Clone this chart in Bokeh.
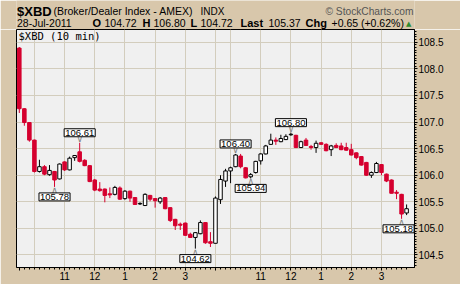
from bokeh.plotting import figure
from bokeh.layouts import column
from bokeh.models import (Range1d, FixedTicker, SingleIntervalTicker, PrintfTickFormatter,
                          Label, LinearAxis)
from bokeh.core.properties import value
from bokeh.embed import file_html
from bokeh.resources import INLINE

# ---------------- data (10-minute bars, 27-28 Jul 2011) ----------------
opens = [108.39, 107.25, 106.99, 106.66, 106.07, 106.16, 106.01, 106.07, 105.93, 106.25,
         106.10, 106.33, 106.44, 106.28, 106.18, 105.91, 105.74, 105.74, 105.65, 105.64,
         105.76, 105.56, 105.70, 105.58, 105.46, 105.43, 105.62, 105.56, 105.50, 105.58,
         105.39, 105.17, 105.08, 105.10, 104.89, 104.83, 104.90, 105.11, 104.75,
         104.72, 105.54, 105.89, 106.08, 106.16, 106.36, 106.14, 105.97, 106.05, 106.27,
         106.40, 106.58, 106.66, 106.63, 106.67, 106.76, 106.75, 106.52, 106.66, 106.54,
         106.52, 106.61, 106.58, 106.48, 106.56, 106.55, 106.52, 106.48, 106.42, 106.35,
         106.24, 106.00, 106.05, 106.20, 106.02, 105.91, 105.68, 105.64, 105.29]
highs = [108.41, 107.26, 107.00, 106.67, 106.29, 106.19, 106.19, 106.08, 106.22, 106.26,
         106.35, 106.38, 106.61, 106.30, 106.19, 105.93, 105.87, 105.75, 105.77, 105.80,
         105.79, 105.72, 105.71, 105.59, 105.49, 105.66, 105.63, 105.57, 105.59, 105.59,
         105.40, 105.18, 105.11, 105.11, 104.92, 104.93, 105.15, 105.12, 104.93,
         105.60, 106.00, 106.12, 106.16, 106.40, 106.40, 106.15, 106.04, 106.27, 106.41,
         106.57, 106.78, 106.71, 106.76, 106.77, 106.80, 106.76, 106.65, 106.70, 106.57,
         106.65, 106.62, 106.60, 106.57, 106.60, 106.61, 106.61, 106.59, 106.43, 106.36,
         106.25, 106.07, 106.25, 106.21, 106.03, 105.92, 105.72, 105.65, 105.45]
lows = [107.17, 106.93, 106.63, 106.05, 106.05, 106.00, 105.99, 105.78, 105.92, 106.08,
        106.09, 106.27, 106.24, 106.17, 105.87, 105.70, 105.69, 105.49, 105.57, 105.62,
        105.54, 105.54, 105.50, 105.44, 105.44, 105.42, 105.51, 105.39, 105.46, 105.36,
        105.12, 104.97, 104.97, 104.86, 104.82, 104.62, 104.89, 104.71, 104.65,
        104.72, 105.46, 105.78, 105.85, 106.15, 106.13, 105.94, 105.94, 106.03, 106.20,
        106.39, 106.57, 106.57, 106.62, 106.66, 106.74, 106.51, 106.51, 106.55, 106.48,
        106.42, 106.57, 106.45, 106.36, 106.51, 106.47, 106.46, 106.37, 106.30, 106.18,
        105.99, 105.95, 106.04, 106.00, 105.87, 105.66, 105.55, 105.18, 105.25]
closes = [107.25, 106.99, 106.66, 106.07, 106.16, 106.02, 106.09, 105.91, 106.21, 106.10,
          106.32, 106.37, 106.26, 106.18, 105.88, 105.72, 105.71, 105.62, 105.63, 105.77,
          105.55, 105.70, 105.57, 105.45, 105.47, 105.64, 105.55, 105.52, 105.57, 105.37,
          105.15, 105.05, 105.06, 104.87, 104.83, 104.92, 105.11, 104.73, 104.72,
          105.57, 105.92, 106.08, 106.14, 106.38, 106.16, 105.95, 106.01, 106.26, 106.40,
          106.55, 106.66, 106.64, 106.69, 106.73, 106.77, 106.52, 106.63, 106.56, 106.52,
          106.60, 106.58, 106.46, 106.55, 106.52, 106.48, 106.47, 106.38, 106.33, 106.19,
          106.00, 106.05, 106.22, 106.05, 105.89, 105.66, 105.66, 105.27, 105.37]

days = ["27Jul", "28Jul"]
session_start = (9, 30)
bars_per_day = 39
bar_minutes = 10

# annotated swing highs / lows (bar index, which price)
ann_idx = [7, 12, 35, 43, 46, 54, 76]
ann_kind = ["low", "high", "low", "high", "low", "high", "low"]

# header texts
symbol = "$XBD"
name = "(Broker/Dealer Index - AMEX)"
exchange = "INDX"
credit = "\u00a9 StockCharts.com"
date_str = "28-Jul-2011"
q_open, q_high, q_low, q_last = "104.72", "106.80", "104.72", "105.37"
q_chg = "+0.65 (+0.62%)"
inner_title = "$XBD (10 min)"

# ---------------- derived ----------------
n = len(opens)
xs = list(range(n))
times = []
for d in days:
    for k in range(bars_per_day):
        m = session_start[0] * 60 + session_start[1] + bar_minutes * k
        times.append((d, m // 60, m % 60))

day_ticks = [i for i, t in enumerate(times) if i == 0 or times[i - 1][0] != t[0]]
hour_idx = [i for i, t in enumerate(times) if t[2] == 0]
label_hours = [i for i in hour_idx if times[i][1] != 10]
grid_ticks = sorted(set(hour_idx + day_ticks[1:]))
major_ticks = sorted(day_ticks + label_hours)
hour_over = {i: ("" if i in day_ticks else str((times[i][1] - 1) % 12 + 1)) for i in major_ticks}

RED = "#D5002F"
TAN = "#D8C7AB"
FONT = "Liberation Sans"

W = 460
HEAD_H = 29
BL, BR, BT, BB = 16, 46, 0, 17
FRAME_H = 238
X0, X1 = -0.56, 78.57
Y0, Y1 = 104.265, 108.739
pxu = (W - BL - BR) / (X1 - X0)
pyu = FRAME_H / (Y1 - Y0)

# blank end ticks so that the day labels are treated as inner labels
pad_ticks = [-0.5, 78.5]
day_over = {i: times[i][0] for i in day_ticks}
day_over.update({t: "" for t in pad_ticks})

# ---------------- header strip (data units = page pixels) ----------------
hd = figure(width=W, height=HEAD_H, x_range=Range1d(BL, W - BR), y_range=Range1d(HEAD_H, 0),
            x_axis_location=None, y_axis_location=None, output_backend="svg",
            toolbar_location=None, min_border_left=BL, min_border_right=BR,
            min_border_top=0, min_border_bottom=0)
hd.grid.visible = False
hd.outline_line_color = None
hd.background_fill_color = TAN
hd.border_fill_color = TAN

def htxt(txt, cx, cy, size, bold=False, color="black", font=FONT):
    hd.text(x=[cx], y=[cy], text=[txt], text_align="left", text_baseline="alphabetic",
            text_font=value(font), text_font_size=size,
            text_font_style="bold" if bold else "normal", text_color=color)

L1, L2 = 10.8, 22.9
htxt(symbol, 16.5, 10.5, "13px", bold=True)
htxt(name, 53, L1, "10.5px")
htxt(exchange, 200, L1, "10px")
htxt(credit, 325, L1, "10.2px", color="#555555")
htxt(date_str, 16.5, L2, "10.5px")
htxt("O", 92, L2, "11px", bold=True)
htxt(q_open, 104, L2, "10.5px")
htxt("H", 142, L2, "11px", bold=True)
htxt(q_high, 153, L2, "10.5px")
htxt("L", 190, L2, "11px", bold=True)
htxt(q_low, 200, L2, "10.5px")
htxt("Last", 240, L2, "11px", bold=True)
htxt(q_last, 268, L2, "10.5px")
htxt("Chg", 305, L2, "11px", bold=True)
htxt(q_chg, 331, L2, "10.5px")
htxt("\u25b2", 405.5, 23, "7px", color="#2E8B2E", font="DejaVu Sans")

# ---------------- chart ----------------
p = figure(width=W, height=BT + FRAME_H + BB, x_range=Range1d(X0, X1),
           y_range=Range1d(Y0, Y1), y_axis_location="right",
           output_backend="svg", toolbar_location=None,
           min_border_left=BL, min_border_right=BR, min_border_top=BT, min_border_bottom=BB)
p.background_fill_color = "#F0F0F0"
p.border_fill_color = TAN
p.outline_line_color = "black"
p.outline_line_width = 1

ya = p.yaxis[0]
ya.ticker = SingleIntervalTicker(interval=0.5, num_minor_ticks=10)
ya.formatter = PrintfTickFormatter(format="%.1f")
ya.major_label_text_font = FONT
ya.major_label_text_font_size = "10px"
ya.major_label_text_color = "black"
ya.major_tick_out = 3
ya.major_tick_in = 0
ya.minor_tick_out = 2
ya.minor_tick_in = 0
ya.major_label_standoff = 1
ya.axis_line_color = "black"

xa = p.xaxis[0]
xa.ticker = FixedTicker(ticks=major_ticks, minor_ticks=xs)
xa.major_label_overrides = hour_over
xa.major_label_text_font = FONT
xa.major_label_text_font_size = "10px"
xa.major_label_text_color = "black"
xa.major_label_standoff = 1
xa.major_tick_out = 3
xa.major_tick_in = 0
xa.minor_tick_out = 2
xa.minor_tick_in = 0
xa.axis_line_color = "black"

# bold day labels: a second axis pinned to the bottom of the frame
xd = LinearAxis(ticker=FixedTicker(ticks=[pad_ticks[0]] + day_ticks + [pad_ticks[1]]),
                major_label_overrides=day_over,
                fixed_location=Y0, axis_line_color=None, major_tick_line_color=None,
                minor_tick_line_color=None, major_tick_out=3, major_tick_in=0,
                major_label_standoff=1, major_label_text_font=FONT,
                major_label_text_font_size="10px", major_label_text_font_style="bold",
                major_label_text_color="black")
p.add_layout(xd, "below")

p.xgrid.ticker = FixedTicker(ticks=grid_ticks)
for g in (p.xgrid[0], p.ygrid[0]):
    g.grid_line_color = "#D3CDBD"
    g.grid_line_width = 1

up = [i for i in xs if closes[i] >= opens[i]]
dn = [i for i in xs if closes[i] < opens[i]]
p.segment(x0=dn, y0=[lows[i] for i in dn], x1=dn, y1=[highs[i] for i in dn],
          line_color=RED, line_width=1)
p.segment(x0=up, y0=[lows[i] for i in up], x1=up, y1=[highs[i] for i in up],
          line_color="black", line_width=1)
p.vbar(x=dn, width=0.7, top=[opens[i] for i in dn], bottom=[closes[i] for i in dn],
       fill_color=RED, line_color=RED, line_width=1)
p.vbar(x=up, width=0.7, top=[closes[i] for i in up], bottom=[opens[i] for i in up],
       fill_color="white", line_color="black", line_width=1)

hi_i = [i for i, k in zip(ann_idx, ann_kind) if k == "high"]
lo_i = [i for i, k in zip(ann_idx, ann_kind) if k == "low"]
p.text(x=hi_i, y=[highs[i] for i in hi_i], text=["\u2228"] * len(hi_i),
       text_align="center", text_baseline="alphabetic", y_offset=-4,
       text_font=value("DejaVu Sans"), text_font_size="9px", text_color="#808080")
p.text(x=lo_i, y=[lows[i] for i in lo_i], text=["\u2227"] * len(lo_i),
       text_align="center", text_baseline="alphabetic", y_offset=3,
       text_font=value("DejaVu Sans"), text_font_size="9px", text_color="#808080")
for i, k in zip(ann_idx, ann_kind):
    v = highs[i] if k == "high" else lows[i]
    p.add_layout(Label(x=i, y=v, text=f"{v:.2f}", text_align="center",
                       text_baseline="bottom" if k == "high" else "top",
                       y_offset=6 if k == "high" else -6,
                       x_offset=-3 if i == n - 2 else 0,
                       text_font=FONT, text_font_size="9.5px", text_color="black",
                       background_fill_color="white", border_line_color="black",
                       border_line_width=1, padding=1))

p.add_layout(Label(x=X0 + 2 / pxu, y=Y1 - 6.3 / pyu, text=inner_title,
                   text_align="left", text_baseline="alphabetic",
                   text_font="DejaVu Sans Mono", text_font_size="10.5px", text_color="black"))

layout = column(hd, p, spacing=0)
open("out.html", "w").write(file_html(layout, INLINE))
